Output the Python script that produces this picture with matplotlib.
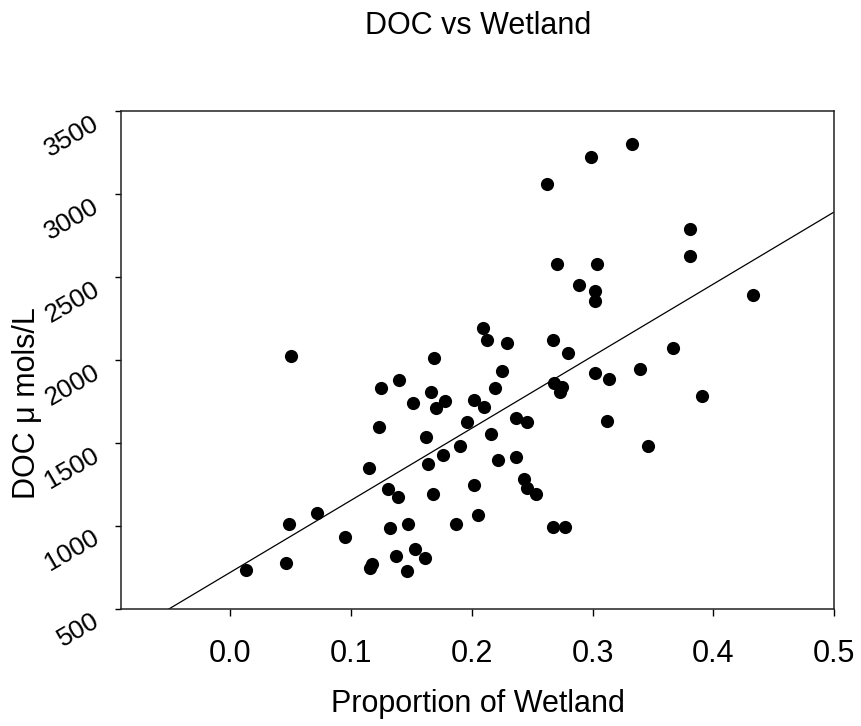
import matplotlib
matplotlib.use("Agg")
import matplotlib.pyplot as plt
import numpy as np

plt.rcParams['font.family'] = ['Liberation Sans', 'DejaVu Sans']

# proportion of wetland in each catchment
wetland = [0.013, 0.046, 0.049, 0.050, 0.072, 0.095, 0.115, 0.117, 0.116, 0.123,
           0.125, 0.131, 0.132, 0.137, 0.139, 0.140, 0.146, 0.147, 0.151, 0.153,
           0.161, 0.162, 0.164, 0.166, 0.168, 0.169, 0.170, 0.176, 0.178, 0.187,
           0.190, 0.196, 0.202, 0.202, 0.205, 0.209, 0.210, 0.213, 0.216, 0.219,
           0.222, 0.225, 0.229, 0.237, 0.237, 0.243, 0.246, 0.246, 0.253, 0.262,
           0.267, 0.267, 0.268, 0.271, 0.273, 0.275, 0.277, 0.280, 0.289, 0.299,
           0.302, 0.302, 0.302, 0.304, 0.312, 0.314, 0.333, 0.339, 0.346, 0.367,
           0.381, 0.381, 0.391, 0.433]
# dissolved organic carbon, umol/L
doc = [733, 776, 1011, 2026, 1075, 934, 1351, 770, 748, 1594,
       1830, 1220, 989, 818, 1172, 1880, 726, 1009, 1739, 862,
       808, 1534, 1375, 1809, 1190, 2010, 1709, 1429, 1749, 1009,
       1480, 1624, 1755, 1244, 1065, 2189, 1715, 2121, 1554, 1830,
       1395, 1930, 2101, 1415, 1649, 1284, 1624, 1226, 1190, 3062,
       2121, 995, 1860, 2575, 1809, 1836, 995, 2041, 2453, 3221,
       2416, 2356, 1920, 2575, 1630, 1886, 3301, 1944, 1483, 2071,
       2786, 2628, 1785, 2390]

xticks = [0.0, 0.1, 0.2, 0.3, 0.4, 0.5]
yticks = [500, 1000, 1500, 2000, 2500, 3000, 3500]

fig = plt.figure(figsize=(8.61, 7.26), dpi=100)
ax = fig.add_axes([121 / 861, 1 - 608.7 / 726, 713 / 861, 497.7 / 726])

ax.scatter(wetland, doc, s=90, color='black', zorder=3, linewidths=0)

# least squares line
slope, intercept = np.polyfit(wetland, doc, 1)
xs = np.array([-0.0905, 0.5])
ax.plot(xs, intercept + slope * xs, color='black', lw=0.9, zorder=2)

ax.set_xlim(-0.0905, 0.5)
ax.set_ylim(500, 3500)
ax.set_xticks(xticks)
ax.set_xticklabels([f'{t:.1f}' for t in xticks])
ax.set_yticks(yticks)
ax.set_yticklabels([str(t) for t in yticks], rotation=30,
                   ha='right', va='top', rotation_mode='anchor')

ax.tick_params(axis='x', direction='out', length=5, width=1, pad=17, labelsize=22)
ax.tick_params(axis='y', direction='out', length=4.3, width=1, pad=17, labelsize=19)
for sp in ax.spines.values():
    sp.set_linewidth(1.1)
    sp.set_color('#222222')

fig.text(478 / 861, 1 - 34 / 726, 'DOC vs Wetland', fontsize=22,
         ha='center', va='baseline')
fig.text(478 / 861, 1 - 712 / 726, 'Proportion of Wetland', fontsize=22,
         ha='center', va='baseline')
fig.text(27 / 861, 1 - 403 / 726, 'DOC \u03bc mols/L', fontsize=22,
         rotation=90, ha='center', va='center')

fig.savefig('out.png', dpi=100)
